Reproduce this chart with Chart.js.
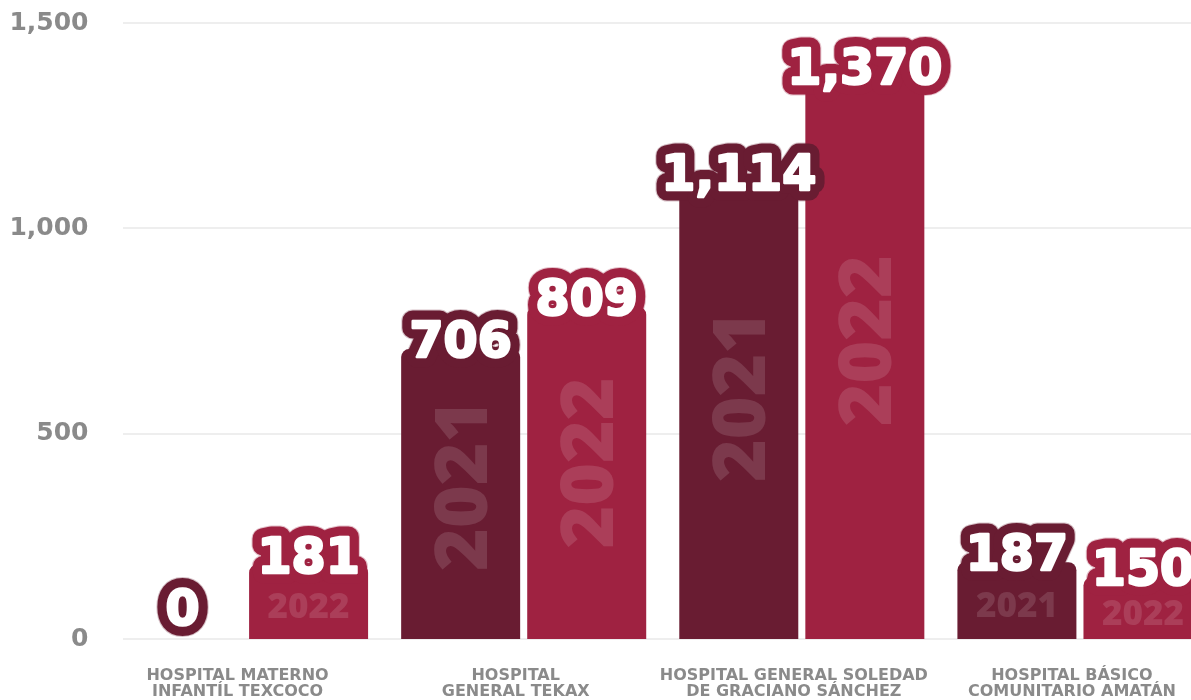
<!DOCTYPE html>
<html>
<head>
<meta charset="utf-8">
<script src="https://cdn.jsdelivr.net/npm/chart.js@4/dist/chart.umd.min.js"></script>
<style>
  html, body { margin: 0; padding: 0; background: #ffffff; overflow: hidden; }
  #wrap { width: 1219px; height: 700px; }
</style>
</head>
<body>
<div id="wrap"><canvas id="c" width="1219" height="700"></canvas></div>
<script>
// Hospitals (two-line labels), years and values per year
const hospitals = [
  ["HOSPITAL MATERNO", "INFANTÍL TEXCOCO"],
  ["HOSPITAL", "GENERAL TEKAX"],
  ["HOSPITAL GENERAL SOLEDAD", "DE GRACIANO SÁNCHEZ"],
  ["HOSPITAL BÁSICO", "COMUNITARIO AMATÁN"]
];
const years = ["2021", "2022"];
const values2021 = [0, 706, 1114, 187];
const values2022 = [181, 809, 1370, 150];
const yTicks = [0, 500, 1000, 1500];

const barColors = ["#691C32", "#9F2241"];
const haloColors = ["rgba(105,28,50,0.28)", "rgba(159,34,65,0.28)"];

const fmt = v => v.toLocaleString("en-US");
const VALUE_FONT = "bold 49px 'DejaVu Sans'";

// position of the value label centre for a bar
function valueLabelY(bar) {
  return Math.min(bar.y - 10, bar.base - 32);
}

// light horizontal grid lines across the plot
const gridPlugin = {
  id: "hgrid",
  beforeDatasetsDraw(chart) {
    const { ctx, scales: { y } } = chart;
    ctx.save();
    ctx.strokeStyle = "#eeeeee";
    ctx.lineWidth = 2;
    yTicks.forEach(v => {
      const py = Math.round(y.getPixelForValue(v));
      ctx.beginPath();
      ctx.moveTo(123, py);
      ctx.lineTo(chart.width, py);
      ctx.stroke();
    });
    // soft halo behind the value badges (hidden by the bars themselves)
    ctx.font = VALUE_FONT;
    ctx.textAlign = "center";
    ctx.textBaseline = "alphabetic";
    ctx.lineJoin = "round";
    chart.data.datasets.forEach((ds, i) => {
      chart.getDatasetMeta(i).data.forEach((bar, j) => {
        const txt = fmt(ds.data[j]);
        const by = valueLabelY(bar) + 18;
        ctx.strokeStyle = haloColors[i];
        ctx.lineWidth = 23;
        ctx.strokeText(txt, bar.x, by);
      });
    });
    ctx.restore();
  }
};

// year inside each bar, then the value badge on top
const labelPlugin = {
  id: "barLabels",
  afterDatasetsDraw(chart) {
    const { ctx } = chart;
    ctx.save();
    chart.data.datasets.forEach((ds, i) => {
      chart.getDatasetMeta(i).data.forEach((bar, j) => {
        const v = ds.data[j];
        if (!v) return;
        const h = bar.base - bar.y;
        ctx.fillStyle = "rgba(255,255,255,0.13)";
        ctx.textAlign = "center";
        ctx.textBaseline = "alphabetic";
        if (h > 150) {
          ctx.save();
          ctx.translate(bar.x, bar.base - 0.53 * h);
          ctx.rotate(-Math.PI / 2);
          ctx.font = "800 73px 'Open Sans'";
          ctx.fillText(ds.label, 0, 26);
          ctx.restore();
        } else {
          ctx.font = "800 35px 'Open Sans'";
          ctx.fillText(ds.label, bar.x, bar.base - h / 2 + 4 + 12.5);
        }
      });
    });
    ctx.font = VALUE_FONT;
    ctx.textAlign = "center";
    ctx.textBaseline = "alphabetic";
    ctx.lineJoin = "round";
    chart.data.datasets.forEach((ds, i) => {
      chart.getDatasetMeta(i).data.forEach((bar, j) => {
        const txt = fmt(ds.data[j]);
        const by = valueLabelY(bar) + 18;
        ctx.strokeStyle = barColors[i];
        ctx.lineWidth = 21;
        ctx.strokeText(txt, bar.x, by);
        ctx.fillStyle = "#ffffff";
        ctx.fillText(txt, bar.x, by);
        ctx.strokeStyle = "#ffffff";
        ctx.lineWidth = 2.5;
        ctx.strokeText(txt, bar.x, by);
      });
    });
    ctx.restore();
  }
};

new Chart(document.getElementById("c"), {
  type: "bar",
  data: {
    labels: hospitals,
    datasets: [
      { label: years[0], data: values2021, backgroundColor: barColors[0] },
      { label: years[1], data: values2022, backgroundColor: barColors[1] }
    ]
  },
  options: {
    responsive: false,
    animation: false,
    devicePixelRatio: 1,
    layout: { padding: { top: 0, right: 0, bottom: 0, left: 0 } },
    plugins: { legend: { display: false }, tooltip: { enabled: false } },
    datasets: {
      bar: {
        categoryPercentage: 0.9065,
        barPercentage: 0.944,
        borderRadius: { topLeft: 8, topRight: 8 },
        borderSkipped: "bottom"
      }
    },
    scales: {
      x: {
        grid: { display: false, drawTicks: false },
        border: { display: false },
        ticks: {
          color: "#8a8a8a",
          font: { family: "'DejaVu Sans'", weight: "bold", size: 16, lineHeight: 1.0 },
          maxRotation: 0,
          autoSkip: false,
          padding: 29,
          labelOffset: -8
        },
        afterFit(s) { s.height = 61; }
      },
      y: {
        min: 0,
        max: 1500,
        grid: { display: false, drawTicks: false },
        border: { display: false },
        afterBuildTicks(s) { s.ticks = yTicks.map(v => ({ value: v })); },
        afterFit(s) { s.width = 106.5; },
        ticks: {
          color: "#8a8a8a",
          font: { family: "'DejaVu Sans'", weight: "bold", size: 25, lineHeight: 0.4 },
          padding: 18,
          callback: v => fmt(v)
        }
      }
    }
  },
  plugins: [gridPlugin, labelPlugin]
});
</script>
</body>
</html>
